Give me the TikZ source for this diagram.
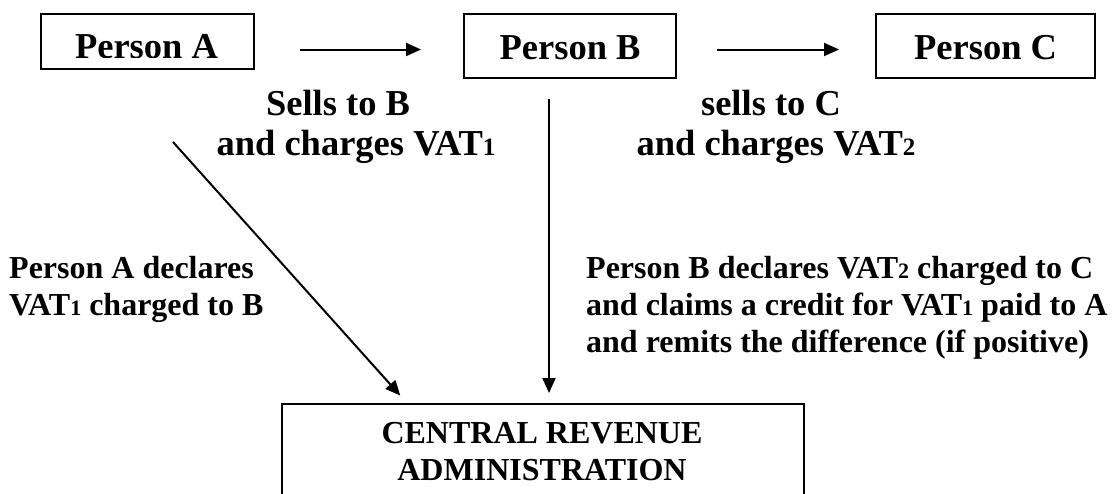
\documentclass[tikz,border=0pt]{standalone}
\usepackage{fontspec}
\setmainfont{Liberation Serif}
\usetikzlibrary{arrows.meta}
\newcommand\bigtxt{\fontsize{36.5}{43}\selectfont\bfseries}
\newcommand\smtxt{\fontsize{32}{37}\selectfont\bfseries}
\newcommand\subA[1]{{\fontsize{25}{25}\selectfont #1}}
\newcommand\subB[1]{{\fontsize{22}{22}\selectfont #1}}
\tikzset{
  pbox/.style={draw=black, line width=2.2pt, inner sep=0pt, anchor=north west, font=\bigtxt},
  crabox/.style={draw=black, line width=2.2pt, inner sep=0pt, anchor=north west},
  arr/.style={line width=2pt, -{Triangle[length=15pt,width=13pt]}},
  big/.style={font=\bigtxt, inner sep=0pt, anchor=base},
  sm/.style={font=\smtxt, inner sep=0pt, anchor=base west},
  smc/.style={font=\smtxt, inner sep=0pt, anchor=base},
}
\begin{document}
\begin{tikzpicture}[x=1pt,y=-1pt]
\useasboundingbox (0,0) rectangle (1117,493);
\clip (0,0) rectangle (1117,493);
\fill[white] (0,0) rectangle (1117,493);
% boxes
\node[pbox, minimum width=213pt, minimum height=55pt] (A) at (40,13) {};
\begin{scope}
  \clip (40,13) rectangle (253,57);
  \node[big] (tA) at (146.5,58) {Person A};
\end{scope}
\node[pbox, minimum width=212pt, minimum height=64pt, text height=26pt, text depth=0pt] (B) at (463,13) {Person B};
\node[pbox, minimum width=219pt, minimum height=64pt, text height=26pt, text depth=0pt] (C) at (875,13) {Person C};
\node[crabox, minimum width=522pt, minimum height=130pt] (R) at (281,403) {};
% helper coordinates
\coordinate (y50) at (0,49.5);
\coordinate (vx) at (549,0);
\coordinate (dS) at (173,142);
\coordinate (dE) at (407,403);
% horizontal arrows
\draw[arr, shorten <=45pt, shorten >=42pt] (A.east |- y50) -- (B.west |- y50);
\draw[arr, shorten <=40pt, shorten >=36pt] (B.east |- y50) -- (C.west |- y50);
% vertical and diagonal arrows
\draw[arr, shorten <=20pt, shorten >=10pt] (B.south -| vx) -- (R.north -| vx);
\draw[arr, shorten >=10pt] (dS) -- (dE);
% labels
\node[big] (t1) at (338,115) {Sells to B};
\node[big] (t2) at (356,155) {and charges VAT\subA{1}};
\node[big] (t3) at (771,115) {sells to C};
\node[big] (t4) at (776,155) {and charges VAT\subA{2}};
\node[sm] (l1) at (9,278) {Person A declares};
\node[sm] (l2) at (9,315) {VAT\subB{1} charged to B};
\node[sm] (r1) at (586,278) {Person B declares VAT\subB{2} charged to C};
\node[sm] (r2) at (586,315) {and claims a credit for VAT\subB{1} paid to A};
\node[sm] (r3) at (586,352) {and remits the difference (if positive)};
\node[smc] (c1) at (542,443) {CENTRAL REVENUE};
\node[smc] (c2) at (542,480) {ADMINISTRATION};
\end{tikzpicture}
\end{document}
